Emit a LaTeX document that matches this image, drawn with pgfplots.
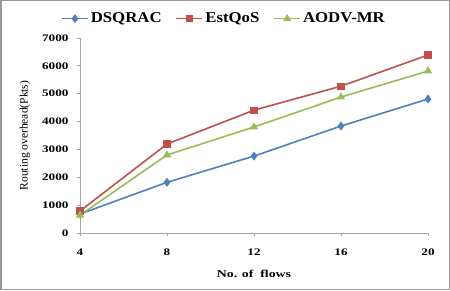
\documentclass[border=0pt]{standalone}
\usepackage{pgfplots}
\pgfplotsset{compat=1.18}
\usepackage{fontspec}
\setmainfont{Liberation Serif}[FakeStretch=1.32]
\newfontfamily\ylabfont{Liberation Serif}
\newfontfamily\legfont{Liberation Serif}[FakeStretch=1.12]
\definecolor{cblue}{HTML}{4F81BD}
\definecolor{cred}{HTML}{C0504D}
\definecolor{cgreen}{HTML}{9BBB59}
\begin{document}
\begin{tikzpicture}[x=1pt,y=1pt]
\draw[draw=gray!80, line width=1.5pt, fill=white] (0.75,0.75) rectangle (449.25,289.25);
\begin{axis}[
  at={(80pt,57pt)}, anchor=south west,
  scale only axis, width=348pt, height=195pt,
  xmin=4, xmax=20, ymin=0, ymax=7000,
  xtick={4,8,12,16,20}, ytick={0,1000,...,7000},
  axis x line=bottom, axis y line=left,
  axis line style={draw=gray!70, line width=0.8pt, -},
  tick style={draw=gray!70, line width=0.8pt},
  tick align=outside, major tick length=3pt,
  /pgf/number format/assume math mode=true,
  scaled y ticks=false,
  yticklabel style={font=\fontsize{10}{11}\selectfont\bfseries, /pgf/number format/1000 sep={}, xshift=-5pt},
  xticklabel style={font=\fontsize{10}{11}\selectfont\bfseries, yshift=-9pt},
  xlabel={\textbf{No. of\ \ flows}},
  xlabel style={font=\fontsize{10.5}{12}\selectfont, yshift=-8pt},
  ylabel={\ylabfont Routing overhead(Pkts)},
  ylabel style={font=\fontsize{11.5}{13}\selectfont, yshift=5pt},
  legend style={at={(0.4138,1.15)}, anchor=north, draw=none, fill=none,
    legend columns=-1, font=\fontsize{15}{17}\legfont\selectfont\bfseries,
    /tikz/every even column/.append style={column sep=12pt}},
  legend image code/.code={\draw[#1] (0pt,0pt) -- (26pt,0pt); \draw[#1, only marks] plot coordinates {(13pt,0pt)};},
  clip=false,
]
\addplot[color=cblue, line width=1.6pt, mark=diamond*, mark size=3.2pt, mark options={solid, fill=cblue}]
  coordinates {(4,680) (8,1820) (12,2760) (16,3840) (20,4810)};
\addplot[color=cred, line width=1.6pt, mark=square*, mark size=2.8pt, mark options={solid, fill=cred}]
  coordinates {(4,790) (8,3195) (12,4410) (16,5270) (20,6390)};
\addplot[color=cgreen, line width=1.6pt, mark=triangle*, mark size=3.2pt, mark options={solid, fill=cgreen}]
  coordinates {(4,640) (8,2800) (12,3805) (16,4880) (20,5815)};
\legend{DSQRAC, EstQoS, AODV-MR}
\end{axis}
\end{tikzpicture}
\end{document}
